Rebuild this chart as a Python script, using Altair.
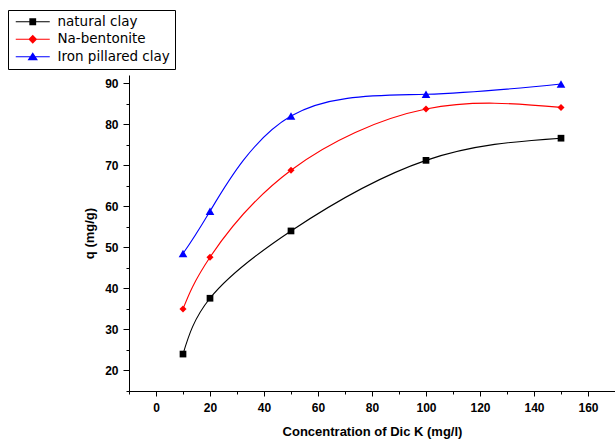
import altair as alt
import pandas as pd

# ---- data ----
conc = [10, 20, 50, 100, 150]
natural_clay = [24.0, 37.6, 54.0, 71.2, 76.6]
na_bentonite = [35.0, 47.6, 68.8, 83.7, 84.1]
iron_pillared = [48.5, 58.8, 82.0, 87.3, 89.8]

series_names = ["natural clay", "Na-bentonite", "Iron pillared clay"]
series_values = [natural_clay, na_bentonite, iron_pillared]
series_colors = ["#000000", "#ff0000", "#0000ff"]
marker_shapes = ["square", "diamond", "triangle-up"]
marker_sizes = [45, 50, 75]

x_ticks = list(range(-10, 171, 10))
y_ticks = list(range(15, 91, 5))

# legend symbols: a short line with the marker in its middle
line_path = "M-4.25,-0.14H4.25V0.14H-4.25Z"
legend_paths = [
    line_path + "M-0.85,-0.85H0.85V0.85H-0.85Z",
    line_path + "M0,-1.1L1.1,0L0,1.1L-1.1,0Z",
    line_path + "M0,-1.15L1.3,0.9L-1.3,0.9Z",
]

rows = []
for name, vals in zip(series_names, series_values):
    for c, q in zip(conc, vals):
        rows.append({"series": name, "conc": c, "q": q})
df = pd.DataFrame(rows)

x_axis = alt.Axis(
    title="Concentration of Dic K (mg/l)",
    values=x_ticks,
    labelExpr="datum.value % 20 === 0 ? datum.label : ''",
    tickSize={"condition": {"test": "datum.value % 20 === 0", "value": 5}, "value": 3},
    labelPadding=6,
    titlePadding=12,
)
y_axis = alt.Axis(
    title="q (mg/g)",
    values=y_ticks,
    labelExpr="datum.value % 10 === 0 ? datum.label : ''",
    tickSize={"condition": {"test": "datum.value % 10 === 0", "value": 6}, "value": 3},
    labelPadding=5,
    titlePadding=8,
)

X = alt.X("conc:Q", scale=alt.Scale(domain=[-10, 170], nice=False, zero=False), axis=x_axis)
Y = alt.Y("q:Q", scale=alt.Scale(domain=[15, 92], nice=False, zero=False), axis=y_axis)

layers = []
for name, color, shape, size in zip(series_names, series_colors, marker_shapes, marker_sizes):
    base = alt.Chart(df).transform_filter(alt.datum.series == name)
    layers.append(
        base.mark_line(color=color, strokeWidth=1.1, interpolate="natural").encode(x=X, y=Y)
    )
    layers.append(
        base.mark_point(shape=shape, filled=True, color=color, size=size, opacity=1).encode(x=X, y=Y)
    )

legend = alt.Legend(
    title=None,
    orient="none",
    legendX=-121,
    legendY=-65,
    strokeColor="black",
    padding=5,
    symbolSize=64,
    symbolOffset=13,
    labelOffset=18,
    labelFont="DejaVu Sans",
    labelFontSize=13.5,
    labelColor="black",
    rowPadding=2.5,
)

ghost = (
    alt.Chart(df)
    .transform_filter("false")
    .mark_point(filled=True, opacity=1)
    .encode(
        x=X,
        y=Y,
        color=alt.Color("series:N", scale=alt.Scale(domain=series_names, range=series_colors), legend=legend),
        shape=alt.Shape("series:N", scale=alt.Scale(domain=series_names, range=legend_paths), legend=legend),
    )
)
layers.append(ghost)

chart = (
    alt.layer(*layers)
    .properties(
        width=486,
        height=316,
        autosize=alt.AutoSizeParams(type="none"),
        padding={"left": 129, "top": 75, "right": 0, "bottom": 53},
    )
    .configure_view(stroke=None)
    .configure_axis(
        grid=False,
        domainColor="black",
        tickColor="black",
        labelColor="black",
        titleColor="black",
        labelFont="Liberation Sans",
        labelFontWeight="bold",
        labelFontSize=12,
        titleFont="Liberation Sans",
        titleFontWeight="bold",
        titleFontSize=13,
    )
)

chart.save("out.html", embed_options={"renderer": "svg", "actions": False})
